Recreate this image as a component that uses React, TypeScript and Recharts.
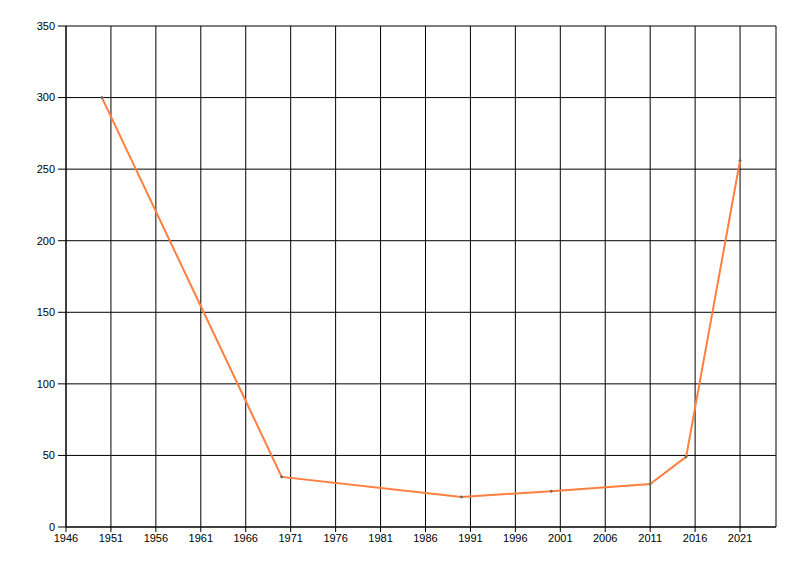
import React from 'react'
import { LineChart, Line, XAxis, YAxis, CartesianGrid } from 'recharts'

const years = [1950, 1970, 1990, 2000, 2011, 2015, 2021]
const values = [300, 35, 21, 25, 30, 49, 256]
const xTicks = [1946, 1951, 1956, 1961, 1966, 1971, 1976, 1981, 1986, 1991, 1996, 2001, 2006, 2011, 2016, 2021]
const yTicks = [0, 50, 100, 150, 200, 250, 300, 350]

const data = years.map((year, i) => ({ year, value: values[i] }))

const tickStyle = { fill: '#000', fontSize: 11, fontFamily: "'Liberation Sans', Arial, sans-serif" }

const App: React.FC = () => {
  return (
    <div style={{ position: 'absolute', left: 0, top: 0, background: '#fff' }}>
      <LineChart width={800} height={576} data={data} margin={{ top: 26, right: 24, bottom: 19, left: 6 }}>
        <CartesianGrid stroke="#000" strokeWidth={1} horizontalPoints={undefined} />
        <XAxis
          dataKey="year"
          type="number"
          domain={[1946, 2025]}
          ticks={xTicks}
          allowDataOverflow
          height={30}
          tickSize={5}
          tickMargin={2}
          interval={0}
          stroke="#000"
          tick={tickStyle}
        />
        <YAxis
          type="number"
          domain={[0, 350]}
          ticks={yTicks}
          width={60}
          tickSize={8}
          tickMargin={3}
          interval={0}
          stroke="#000"
          tick={tickStyle}
        />
        <Line
          type="linear"
          dataKey="value"
          stroke="#ff7f3f"
          strokeWidth={2}
          dot={{ r: 1, fill: '#666', stroke: '#666', strokeWidth: 1 }}
          isAnimationActive={false}
        />
      </LineChart>
    </div>
  )
}

export default App
